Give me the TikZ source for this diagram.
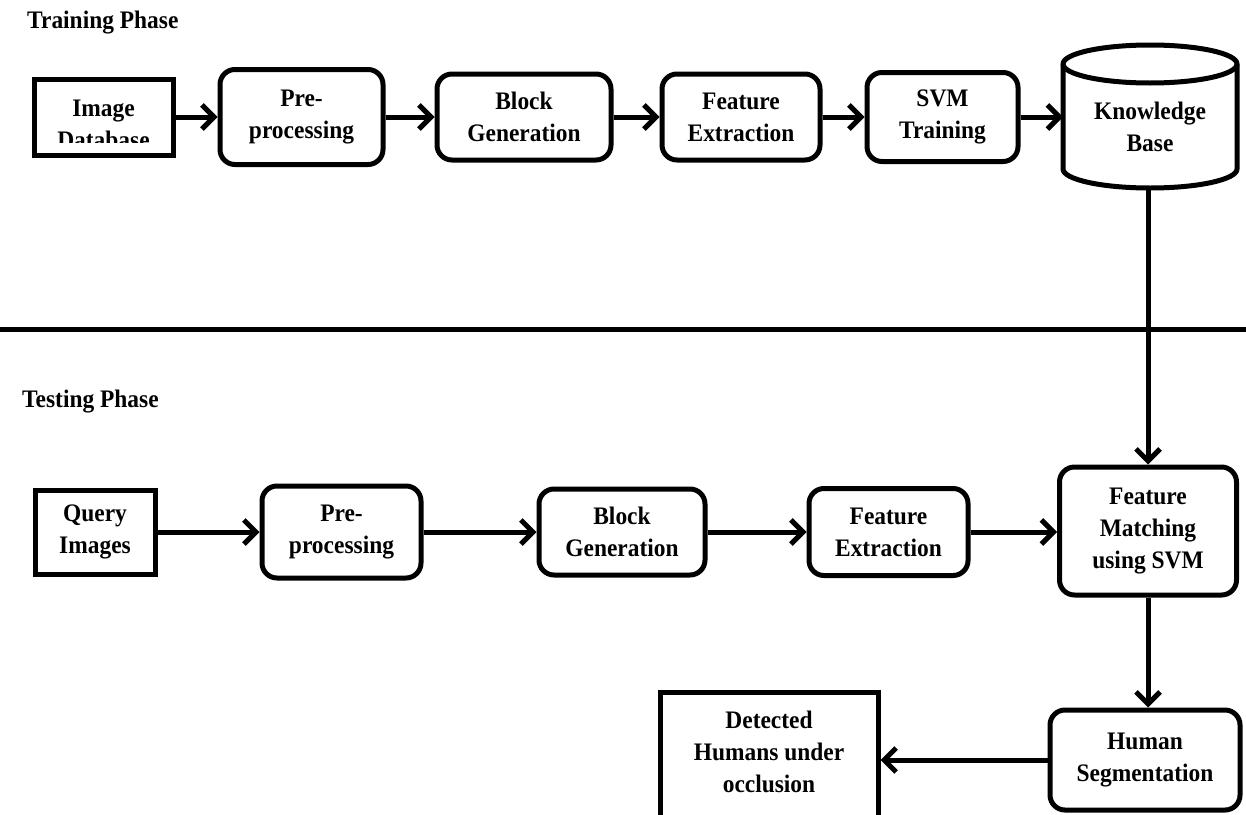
\documentclass[tikz,border=0pt]{standalone}
\usepackage{fontspec}
\setmainfont{Liberation Serif}[FakeStretch=0.93]
\usetikzlibrary{arrows.meta}
\begin{document}
\begin{tikzpicture}[x=1pt,y=1pt,
  lbl/.style={font=\bfseries\fontsize{25.2}{32}\selectfont, align=center, inner sep=0pt},
  rbox/.style={lbl, draw, line width=5pt, rounded corners=15pt},
  sqbox/.style={lbl, draw, line width=5pt},
  conn/.style={line width=5pt, -{Straight Barb[length=12pt,width=24pt]}},
  plain/.style={line width=5pt},
  heading/.style={font=\bfseries\fontsize{25.2}{28}\selectfont, inner sep=0pt, anchor=base west}]
\clip (0,0) rectangle (1246,-814);
\fill[white] (0,0) rectangle (1246,-814);

% headings
\node[heading] (train) at (27,-28) {Training Phase};
\node[heading] (test) at (22,-407) {Testing Phase};

% separator
\coordinate (sepL) at (0,-329);
\coordinate (sepR) at (1246,-329);
\draw[plain] (sepL) -- (sepR);

% training row
\node[sqbox, minimum width=139, minimum height=76] (imgdb) at (103.5,-117) {};
\begin{scope}
  \clip (32,-77) rectangle (175,-142);
  \node[lbl] (imgdbtxt) at (103.5,-124) {Image\\Database};
\end{scope}
\node[rbox, minimum width=163, minimum height=95] (pre1) at (301.5,-117) {Pre-\\processing};
\node[rbox, minimum width=174, minimum height=86] (blk1) at (524,-117) {Block\\Generation};
\node[rbox, minimum width=158, minimum height=86] (fe1) at (741,-117) {Feature\\Extraction};
\node[rbox, minimum width=151, minimum height=89] (svm) at (942.5,-117) {SVM\\Training};

% knowledge base cylinder
\draw[plain] (1063,-64) -- (1063,-169)
  arc[start angle=180, end angle=360, x radius=87, y radius=19]
  -- (1237,-64)
  arc[start angle=0, end angle=180, x radius=87, y radius=19] -- cycle;
\draw[plain] (1063,-64) arc[start angle=180, end angle=360, x radius=87, y radius=19];
\node[lbl] (kb) at (1150,-127) {Knowledge\\Base};
\coordinate (kbleft) at (1063,-117);
\coordinate (kbbot) at (1148,-188);

\draw[conn] (imgdb.east) -- (pre1.west);
\draw[conn] (pre1.east) -- (blk1.west);
\draw[conn] (blk1.east) -- (fe1.west);
\draw[conn] (fe1.east) -- (svm.west);
\draw[conn] (svm.east) -- (kbleft);

% testing row
\node[sqbox, minimum width=120, minimum height=84] (query) at (95,-532) {Query\\Images};
\node[rbox, minimum width=159, minimum height=92] (pre2) at (341.5,-532) {Pre-\\processing};
\node[rbox, minimum width=166, minimum height=86] (blk2) at (622,-532) {Block\\Generation};
\node[rbox, minimum width=159, minimum height=87] (fe2) at (888.5,-532) {Feature\\Extraction};
\node[rbox, minimum width=177, minimum height=128] (fm) at (1148,-531) {Feature\\Matching\\using SVM};
\node[rbox, minimum width=190, minimum height=100] (hs) at (1145,-760) {Human\\Segmentation};
\node[sqbox, minimum width=218, minimum height=150] (det) at (769,-767) {};
\node[lbl] (dettxt) at (769,-752) {Detected\\Humans under\\occlusion};

\draw[conn] (query.east) -- (pre2.west);
\draw[conn] (pre2.east) -- (blk2.west);
\draw[conn] (blk2.east) -- (fe2.west);
\draw[conn] (fe2.east) -- (fe2.east -| fm.west);
\draw[conn] (kbbot) -- (kbbot |- fm.north);
\draw[conn] (fm.south) -- (fm.south |- hs.north);
\draw[conn] (hs.west) -- (hs.west -| det.east);
\end{tikzpicture}
\end{document}
